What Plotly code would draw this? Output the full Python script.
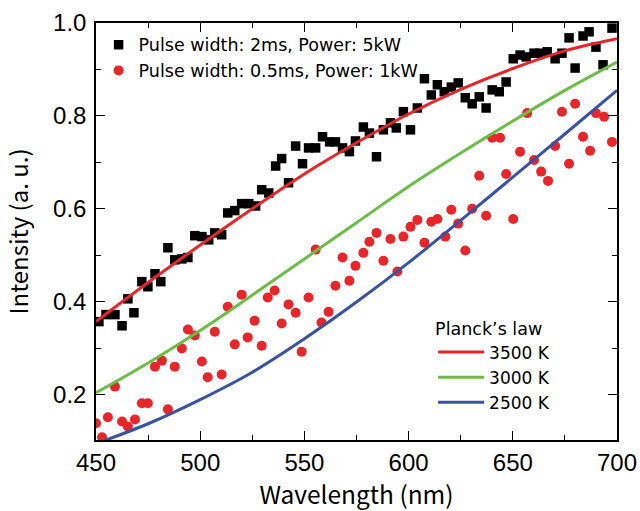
import plotly.graph_objects as go

# Measured spectra
wl_2ms = [451.4, 454.8, 459.1, 462.5, 465.3, 468.2, 472.0, 474.9, 478.3, 481.1,
          484.5, 487.8, 491.2, 494.1, 497.4, 500.8, 504.1, 507.0, 510.3, 513.2,
          516.6, 519.9, 523.3, 526.6, 529.5, 532.9, 536.2, 539.1, 542.4, 545.8,
          549.1, 552.0, 555.4, 558.7, 562.1, 564.9, 568.3, 571.6, 574.5, 578.3,
          581.2, 584.6, 587.9, 591.3, 594.1, 597.5, 600.9, 604.2, 607.6, 610.9,
          613.8, 617.1, 620.5, 623.8, 627.2, 630.5, 633.9, 637.2, 640.1, 643.5,
          646.8, 650.2, 653.5, 656.4, 660.2, 663.1, 666.5, 670.3, 673.6, 677.0,
          679.9, 683.7, 686.6, 689.9, 693.3, 697.6]
int_2ms = [0.357, 0.372, 0.372, 0.348, 0.406, 0.376, 0.443, 0.432, 0.460, 0.443,
           0.516, 0.490, 0.492, 0.495, 0.542, 0.540, 0.533, 0.548, 0.544, 0.591,
           0.596, 0.611, 0.611, 0.606, 0.641, 0.634, 0.692, 0.708, 0.656, 0.735,
           0.697, 0.731, 0.731, 0.755, 0.744, 0.744, 0.731, 0.723, 0.746, 0.776,
           0.763, 0.712, 0.770, 0.785, 0.774, 0.809, 0.770, 0.817, 0.880, 0.845,
           0.867, 0.852, 0.862, 0.871, 0.839, 0.826, 0.841, 0.817, 0.856, 0.852,
           0.873, 0.923, 0.931, 0.927, 0.935, 0.935, 0.938, 0.923, 0.935, 0.968,
           0.903, 0.972, 0.981, 0.948, 0.910, 0.989]

wl_05ms = [450.0, 452.9, 455.7, 459.1, 462.5, 465.3, 468.7, 472.0, 474.9, 478.3,
           481.6, 484.5, 487.8, 491.2, 494.1, 497.4, 500.8, 503.6, 507.0, 510.3,
           513.2, 516.6, 519.9, 522.8, 526.1, 529.5, 532.4, 535.7, 539.1, 542.4,
           545.8, 548.7, 552.0, 555.4, 558.2, 561.6, 564.9, 568.3, 571.6, 574.5,
           578.3, 581.2, 584.6, 587.9, 591.3, 594.6, 597.5, 600.9, 604.2, 607.6,
           610.9, 613.8, 617.6, 620.5, 623.8, 627.2, 630.5, 633.9, 637.2, 640.1,
           643.9, 646.8, 650.2, 653.5, 656.9, 660.2, 663.6, 666.9, 670.3, 673.6,
           677.0, 679.9, 683.7, 687.1, 689.9, 693.8, 697.6]
int_05ms = [0.138, 0.108, 0.151, 0.217, 0.142, 0.131, 0.146, 0.181, 0.181, 0.260,
            0.273, 0.168, 0.260, 0.299, 0.340, 0.327, 0.271, 0.237, 0.335, 0.243,
            0.389, 0.308, 0.415, 0.323, 0.359, 0.305, 0.409, 0.424, 0.353, 0.394,
            0.376, 0.292, 0.409, 0.512, 0.355, 0.378, 0.434, 0.495, 0.445, 0.477,
            0.505, 0.529, 0.548, 0.488, 0.535, 0.465, 0.540, 0.561, 0.576, 0.527,
            0.572, 0.578, 0.540, 0.598, 0.568, 0.510, 0.600, 0.671, 0.585, 0.753,
            0.753, 0.675, 0.578, 0.723, 0.806, 0.705, 0.680, 0.660, 0.735, 0.809,
            0.697, 0.826, 0.755, 0.725, 0.806, 0.798, 0.744]

# Planck's law curves
wl_planck = [450, 475, 500, 525, 550, 575, 600, 625, 650, 675, 700]
planck_3500 = [0.357, 0.441, 0.522, 0.600, 0.675, 0.742, 0.804, 0.857, 0.902, 0.940, 0.966]
planck_3000 = [0.204, 0.268, 0.338, 0.414, 0.492, 0.570, 0.648, 0.720, 0.789, 0.855, 0.916]
planck_2500 = [0.094, 0.137, 0.189, 0.248, 0.320, 0.399, 0.484, 0.575, 0.668, 0.761, 0.855]

x_ticks = [450, 500, 550, 600, 650, 700]

FONT = "Noto Sans CJK JP, Noto Sans, sans-serif"
TICKFONT = "Liberation Sans, Arial, sans-serif"
LEGFONT = "DejaVu Sans, sans-serif"
RED, GREEN, BLUE = "#e8262a", "#6cbd45", "#3953a4"

fig = go.Figure()
fig.add_trace(go.Scatter(x=wl_2ms, y=int_2ms, mode="markers",
                         marker=dict(symbol="square", size=9.5, color="black"),
                         name="Pulse width: 2ms, Power: 5kW", legend="legend"))
fig.add_trace(go.Scatter(x=wl_05ms, y=int_05ms, mode="markers",
                         marker=dict(symbol="circle", size=10, color=RED),
                         name="Pulse width: 0.5ms, Power: 1kW", legend="legend"))
for vals, col, nm in [(planck_3500, RED, "3500 K"), (planck_3000, GREEN, "3000 K"),
                      (planck_2500, BLUE, "2500 K")]:
    fig.add_trace(go.Scatter(x=wl_planck, y=vals, mode="lines", line_shape="spline",
                             line=dict(color=col, width=3), name=nm, legend="legend2"))

axis_common = dict(showline=True, linecolor="black", linewidth=1.5, mirror="allticks",
                   ticks="inside", ticklen=9, tickwidth=1.2, tickcolor="black",
                   showgrid=False, zeroline=False,
                   tickfont=dict(family=TICKFONT, size=24, color="black"))

fig.update_xaxes(range=[450, 700], tickvals=x_ticks,
                 minor=dict(dtick=25, tick0=450, ticks="inside", ticklen=5, tickcolor="black", tickwidth=1.2),
                 title=dict(text="Wavelength (nm)", font=dict(family=FONT, size=24.5, color="black"), standoff=17),
                 **axis_common)
fig.update_yaxes(range=[0.102, 1.0], dtick=0.2, tick0=0, tickformat=".1f",
                 ticklabelstandoff=3,
                 minor=dict(dtick=0.1, tick0=0, ticks="inside", ticklen=5, tickcolor="black", tickwidth=1.2),
                 title=dict(text="Intensity (a. u.)", font=dict(family=FONT, size=24, color="black"), standoff=31),
                 **axis_common)

fig.update_layout(
    width=640, height=511,
    margin=dict(l=96, r=23, t=23, b=71, autoexpand=False),
    paper_bgcolor="white", plot_bgcolor="white",
    font=dict(family=FONT, color="black"),
    legend=dict(x=0.005, y=0.991, xanchor="left", yanchor="top", bgcolor="rgba(0,0,0,0)",
                font=dict(family=LEGFONT, size=17.5, color="black"), tracegroupgap=0),
    legend2=dict(x=0.647, y=0.046, xanchor="left", yanchor="bottom", bgcolor="rgba(0,0,0,0)",
                 itemwidth=46,
                 title=dict(text="Planck’s law", side="top", font=dict(family=LEGFONT, size=17.5, color="black")),
                 font=dict(family=LEGFONT, size=17, color="black")),
)

fig.write_html("out.html", config={"displayModeBar": False},
               post_script="document.body.style.margin='0';document.body.style.overflow='hidden';")
